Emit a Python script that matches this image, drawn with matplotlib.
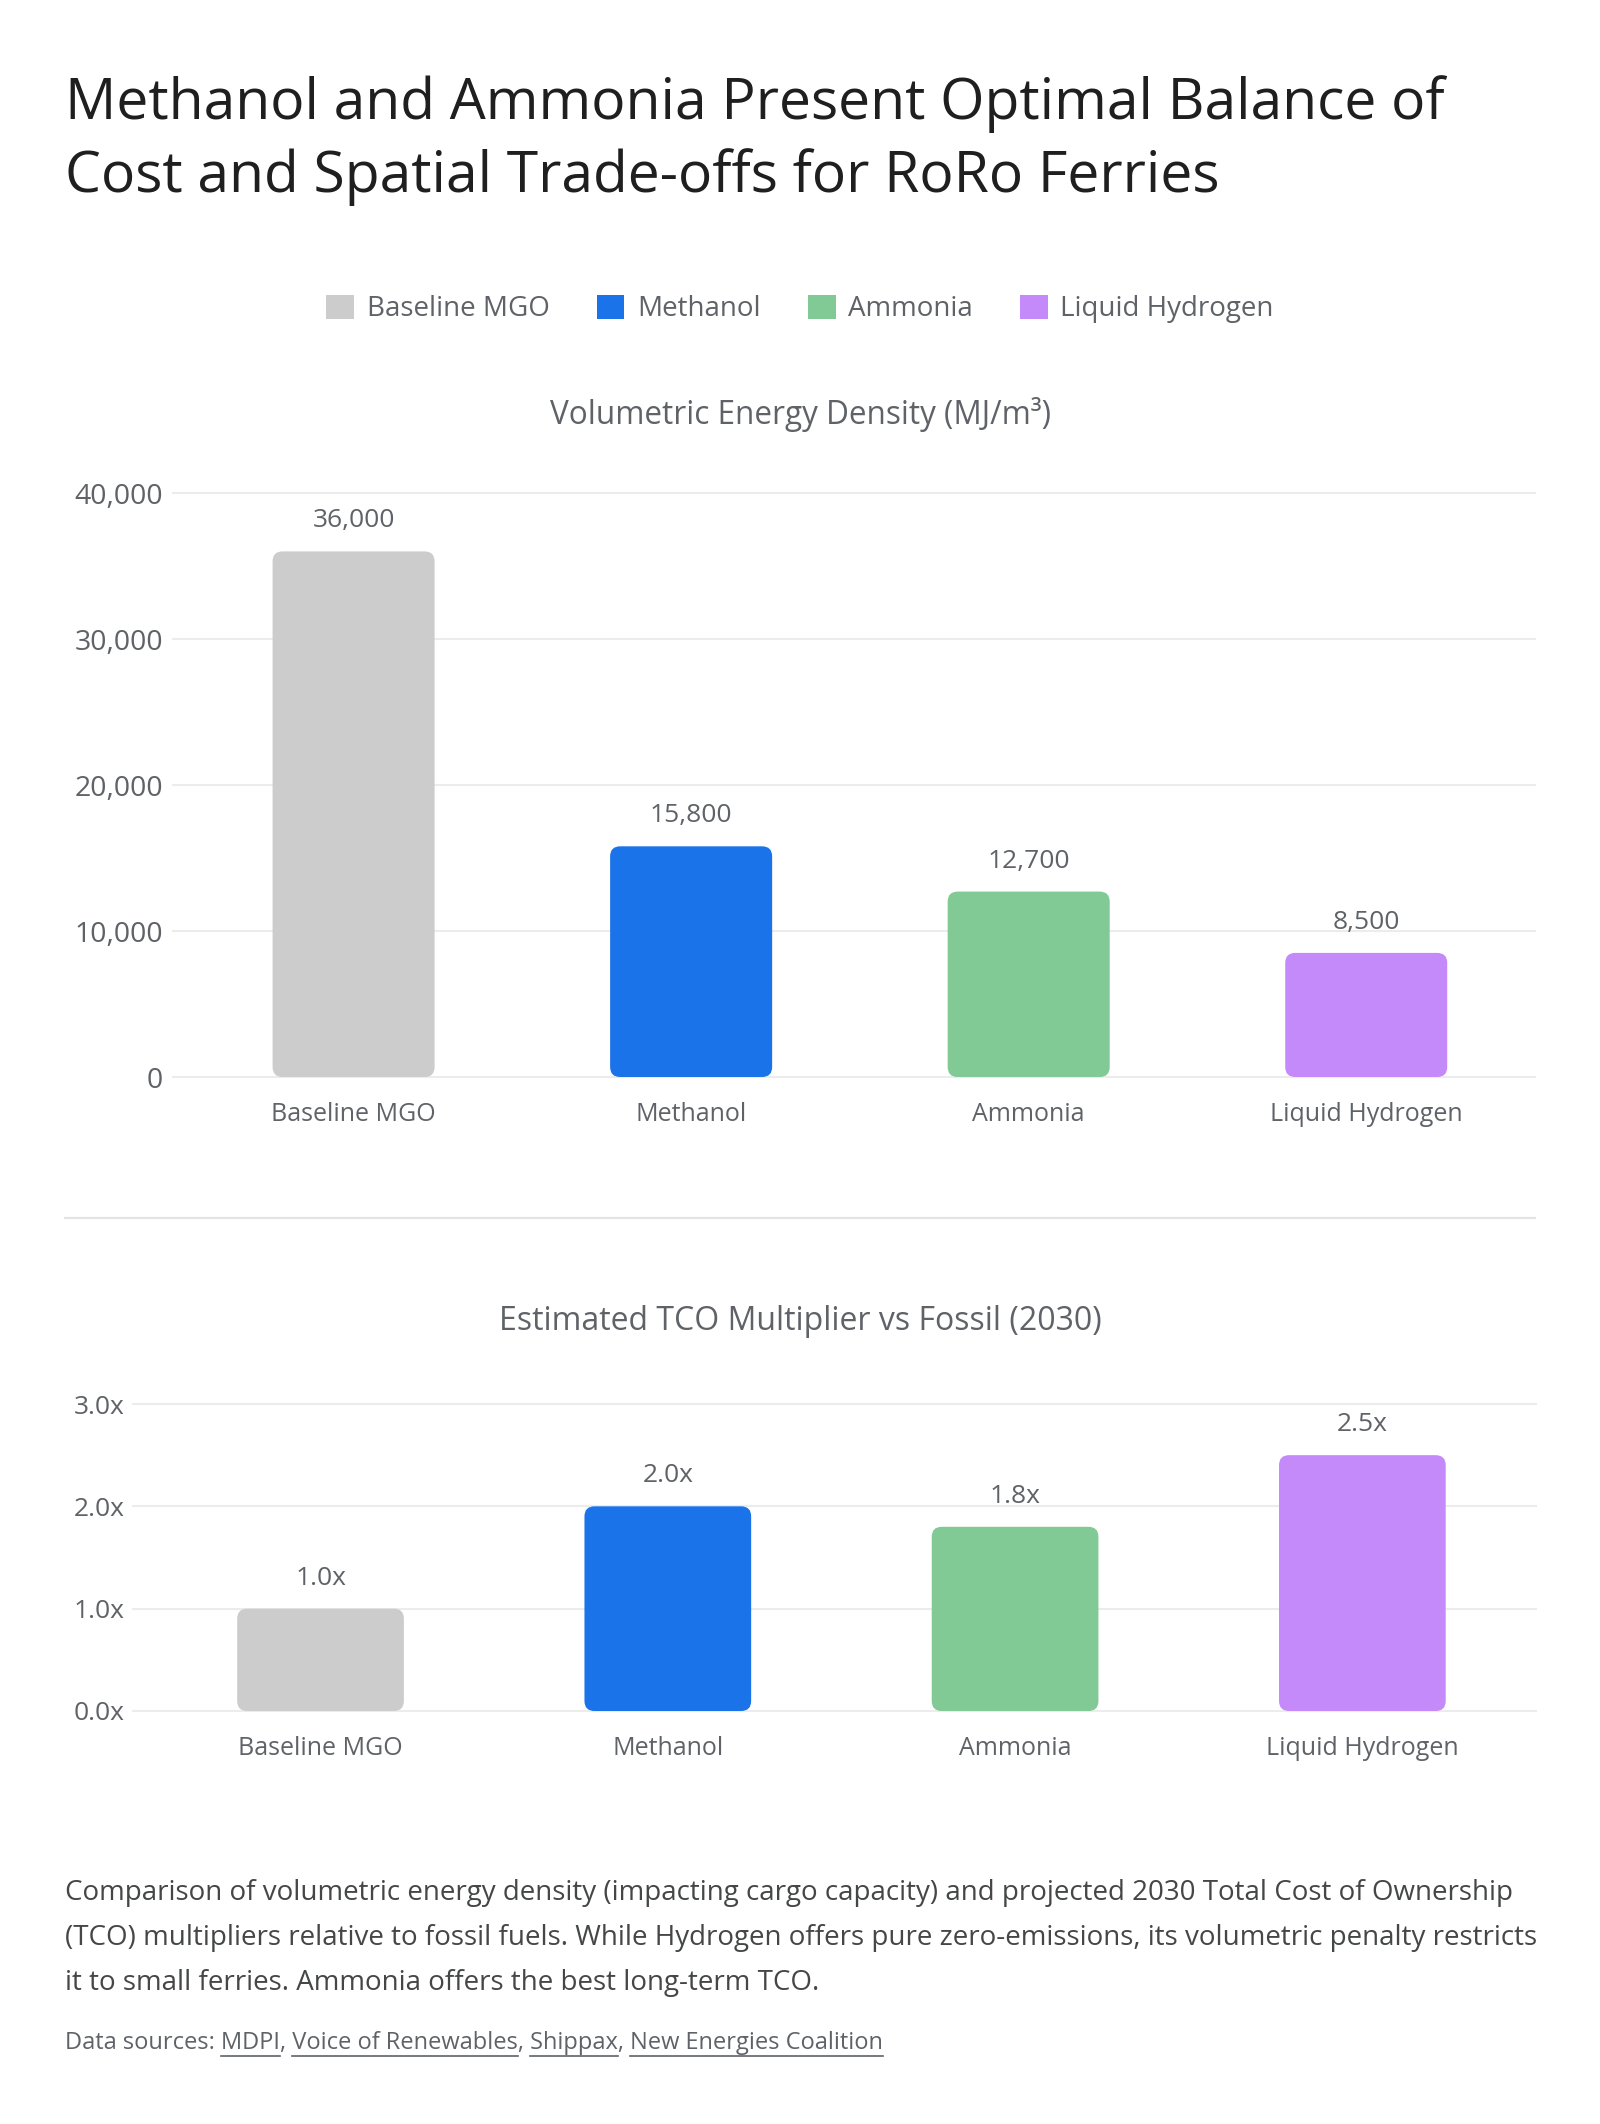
import numpy as np
import matplotlib
matplotlib.use('Agg')
import matplotlib.pyplot as plt
from matplotlib.patches import FancyBboxPatch, Patch
from matplotlib.lines import Line2D
from matplotlib.ticker import FuncFormatter

# data
categories = ['Baseline MGO', 'Methanol', 'Ammonia', 'Liquid Hydrogen']
density = [36000, 15800, 12700, 8500]
tco = [1.0, 2.0, 1.8, 2.5]
colors = ['#cccccc', '#1a73e8', '#81c995', '#c58af9']
density_ticks = [0, 10000, 20000, 30000, 40000]
tco_ticks = [0, 1, 2, 3]

title_lines = ['Methanol and Ammonia Present Optimal Balance of',
               'Cost and Spatial Trade-offs for RoRo Ferries']
caption = ('Comparison of volumetric energy density (impacting cargo capacity) and projected 2030 Total Cost of Ownership\n'
           '(TCO) multipliers relative to fossil fuels. While Hydrogen offers pure zero-emissions, its volumetric penalty restricts\n'
           'it to small ferries. Ammonia offers the best long-term TCO.')
sources = ['MDPI', 'Voice of Renewables', 'Shippax', 'New Energies Coalition']

plt.rcParams['font.family'] = ['Open Sans', 'DejaVu Sans']
W, H = 1600, 2124
TXT = '#5f6368'
DARK = '#1f1f1f'
GRID = '#ececec'

fig = plt.figure(figsize=(W / 100, H / 100), dpi=100)


def fx(px):
    return px / W


def fy(py):
    return 1 - py / H


def rounded_bars(ax, values, width, radius_px, fmt, label_size):
    x = np.arange(len(values))
    bars = ax.bar(x, values, width=width, color=colors)
    fig.canvas.draw()
    bb = ax.get_window_extent()
    x0, x1 = ax.get_xlim()
    y0, y1 = ax.get_ylim()
    ppx = bb.width / (x1 - x0)
    ppy = bb.height / (y1 - y0)
    for rect, c, v in zip(bars, colors, values):
        rx, rw, rh = rect.get_x(), rect.get_width(), rect.get_height()
        rect.remove()
        p = FancyBboxPatch((rx, 0), rw, rh,
                           boxstyle='round,pad=0,rounding_size=%f' % (radius_px / ppx),
                           mutation_aspect=ppx / ppy,
                           facecolor=c, edgecolor='none', zorder=3)
        ax.add_patch(p)
        ax.annotate(fmt(v), (rx + rw / 2, rh), xytext=(0, 22), textcoords='offset points',
                    ha='center', va='center', fontsize=label_size, color=TXT)


def style_axis(ax, ticks, ymax, tickfmt, pad, ysize):
    ax.set_ylim(0, ymax)
    ax.set_yticks(ticks)
    ax.yaxis.set_major_formatter(FuncFormatter(tickfmt))
    ax.set_xticks(range(len(categories)))
    ax.set_xticklabels(categories)
    for s in ax.spines.values():
        s.set_visible(False)
    ax.tick_params(axis='y', length=0, pad=pad, labelsize=ysize, labelcolor=TXT)
    ax.tick_params(axis='x', length=0, pad=18, labelsize=18, labelcolor=TXT)
    ax.grid(axis='y', color=GRID, linewidth=1.5)
    ax.set_axisbelow(True)
    for gl in ax.yaxis.get_gridlines():
        gl.set_clip_on(False)


# title
fig.text(fx(65), fy(119), title_lines[0], fontsize=41, color=DARK, va='baseline', ha='left')
fig.text(fx(65), fy(192), title_lines[1], fontsize=41, color=DARK, va='baseline', ha='left')

# legend
handles = [Patch(facecolor=c, edgecolor='none', label=l) for c, l in zip(colors, categories)]
fig.legend(handles=handles, loc='center', bbox_to_anchor=(fx(800), fy(309)), ncol=4, frameon=False,
           fontsize=20, labelcolor=TXT, handlelength=1.0, handleheight=1.0,
           handletextpad=0.45, columnspacing=1.7)

# chart 1: energy density
ax1 = fig.add_axes([fx(173), fy(1077), fx(1535) - fx(173), (1077 - 493) / H])
ax1.set_xlim(-0.535, 3.5)
style_axis(ax1, density_ticks, 40000, lambda v, p: f'{int(v):,}', 7, 20.5)
rounded_bars(ax1, density, 0.48, 10, lambda v: f'{v:,}', 19)
fig.text(fx(800), fy(415), 'Volumetric Energy Density (MJ/m³)', fontsize=22.7, color=TXT,
         ha='center', va='center')

# separator
fig.add_artist(Line2D([fx(65), fx(1535)], [fy(1218), fy(1218)], color='#e3e3e3', linewidth=1.5))

# chart 2: TCO multiplier
ax2 = fig.add_axes([fx(133), fy(1711), fx(1536) - fx(133), (1711 - 1404) / H])
ax2.set_xlim(-0.54, 3.5)
style_axis(ax2, tco_ticks, 3, lambda v, p: f'{v:.1f}x', 6, 19)
rounded_bars(ax2, tco, 0.48, 10, lambda v: f'{v:.1f}x', 19)
fig.text(fx(800), fy(1322), 'Estimated TCO Multiplier vs Fossil (2030)', fontsize=23, color=TXT,
         ha='center', va='center')

# caption
fig.text(fx(65), fy(1938), caption, fontsize=20, color='#444746', ha='left', va='center',
         linespacing=1.8)

# data sources with underlined links
src_text = 'Data sources: ' + ', '.join(sources)
sy = fy(2043)
fig.text(fx(65), sy, src_text, fontsize=17, color=TXT, ha='left', va='center')
renderer = fig.canvas.get_renderer()
for i, s in enumerate(sources):
    prefix = 'Data sources: ' + ', '.join(sources[:i + 1])
    t1 = fig.text(fx(65), sy, prefix, fontsize=17, ha='left', va='center')
    t2 = fig.text(fx(65), sy, s, fontsize=17, ha='left', va='center')
    e1 = t1.get_window_extent(renderer)
    e2 = t2.get_window_extent(renderer)
    t1.remove()
    t2.remove()
    xa, xb = e1.x1 - e2.width, e1.x1
    uy = 2043 + 13
    fig.add_artist(Line2D([xa / W, xb / W], [fy(uy), fy(uy)], color=TXT, linewidth=1.2))

fig.savefig('out.png', dpi=100, facecolor='white')
